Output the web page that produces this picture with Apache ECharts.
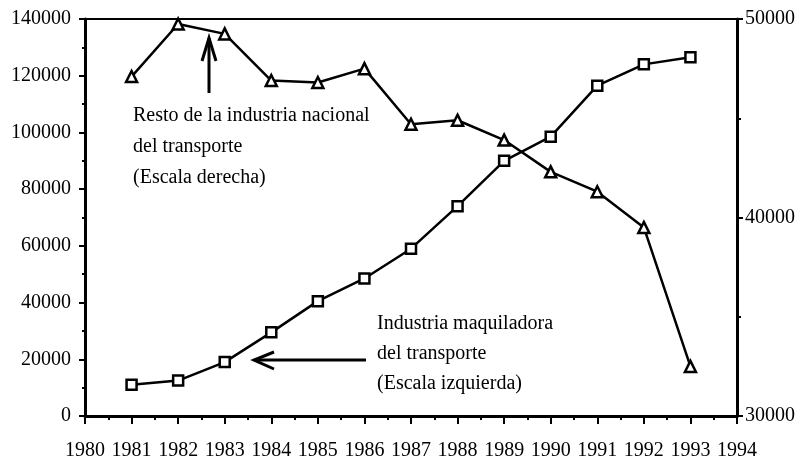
<!DOCTYPE html>
<html>
<head>
<meta charset="utf-8">
<script src="https://cdn.jsdelivr.net/npm/echarts@6/dist/echarts.min.js"></script>
<style>html,body{margin:0;padding:0;background:#fff;}#c{width:804px;height:461px;}</style>
</head>
<body>
<div id="c"></div>
<script>
var years = [1981, 1982, 1983, 1984, 1985, 1986, 1987, 1988, 1989, 1990, 1991, 1992, 1993];
var maquiladora = [11000, 12500, 19000, 29500, 40500, 48500, 59000, 74000, 90000, 98500, 116500, 124000, 126500];
var resto = [47100, 49750, 49250, 46900, 46800, 47500, 44700, 44900, 43900, 42300, 41300, 39500, 32500];
var leftTicks = [0, 20000, 40000, 60000, 80000, 100000, 120000, 140000];
var rightTicks = [30000, 40000, 50000];

var FONT = '"Liberation Serif", "DejaVu Serif", serif';
var chart = echarts.init(document.getElementById('c'), null, {renderer: 'canvas'});
function pairs(xs, ys) { return xs.map(function (x, i) { return [x, ys[i]]; }); }
var labelStyle = {color: '#000', fontFamily: FONT, fontSize: 20};

chart.setOption({
  animation: false,
  backgroundColor: '#fff',
  grid: {left: 85, right: 67, top: 19, bottom: 44, show: true, borderColor: '#000', borderWidth: 2, backgroundColor: 'transparent'},
  xAxis: {
    type: 'value', min: 1980, max: 1994, interval: 1,
    axisLine: {show: true, lineStyle: {color: '#000', width: 3}},
    axisTick: {show: true, inside: false, length: 8, lineStyle: {color: '#000', width: 2}},
    minorTick: {show: true, splitNumber: 2, length: 4, lineStyle: {color: '#000', width: 2}},
    splitLine: {show: false},
    axisLabel: Object.assign({margin: 25, formatter: function (v) { return String(v); }}, labelStyle)
  },
  yAxis: [{
    type: 'value', min: leftTicks[0], max: leftTicks[leftTicks.length - 1], interval: 20000, position: 'left',
    axisLine: {show: true, lineStyle: {color: '#000', width: 3}},
    axisTick: {show: true, length: 6, lineStyle: {color: '#000', width: 2}},
    minorTick: {show: true, splitNumber: 2, length: 3, lineStyle: {color: '#000', width: 2}},
    splitLine: {show: false},
    axisLabel: Object.assign({margin: 14, padding: [6, 0, 0, 0], formatter: function (v) { return String(v); }}, labelStyle)
  }, {
    type: 'value', min: rightTicks[0], max: rightTicks[rightTicks.length - 1], interval: 10000, position: 'right',
    axisLine: {show: true, lineStyle: {color: '#000', width: 3}},
    axisTick: {show: true, length: 6, lineStyle: {color: '#000', width: 2}},
    minorTick: {show: true, splitNumber: 2, length: 4, lineStyle: {color: '#000', width: 2}},
    splitLine: {show: false},
    axisLabel: Object.assign({margin: 8, padding: [8, 0, 0, 0], formatter: function (v) { return String(v); }}, labelStyle)
  }],
  series: [{
    name: 'Industria maquiladora del transporte', type: 'line', yAxisIndex: 0,
    data: pairs(years, maquiladora),
    symbol: 'rect', symbolSize: 10, showAllSymbol: true,
    lineStyle: {color: '#000', width: 2.5},
    itemStyle: {color: '#fff', borderColor: '#000', borderWidth: 2.5}
  }, {
    name: 'Resto de la industria nacional del transporte', type: 'line', yAxisIndex: 1,
    data: pairs(years, resto),
    symbol: 'triangle', symbolSize: 11, showAllSymbol: true,
    lineStyle: {color: '#000', width: 2.5},
    itemStyle: {color: '#fff', borderColor: '#000', borderWidth: 2.5}
  }],
  graphic: [
    {type: 'polyline', shape: {points: [[209, 93], [209, 38]]}, style: {stroke: '#000', lineWidth: 3, fill: null}},
    {type: 'polyline', shape: {points: [[202, 61], [209, 38], [216, 61]]}, style: {stroke: '#000', lineWidth: 3, fill: null}},
    {type: 'text', left: 133, top: 100, style: {text: 'Resto de la industria nacional\ndel transporte\n(Escala derecha)', fill: '#000', font: '20px ' + FONT, lineHeight: 31}},
    {type: 'polyline', shape: {points: [[254, 360], [366, 360]]}, style: {stroke: '#000', lineWidth: 3, fill: null}},
    {type: 'polyline', shape: {points: [[274, 352], [254, 360], [274, 369]]}, style: {stroke: '#000', lineWidth: 3, fill: null}},
    {type: 'text', left: 377, top: 309, style: {text: 'Industria maquiladora\ndel transporte\n(Escala izquierda)', fill: '#000', font: '20px ' + FONT, lineHeight: 30}}
  ]
});
</script>
</body>
</html>
